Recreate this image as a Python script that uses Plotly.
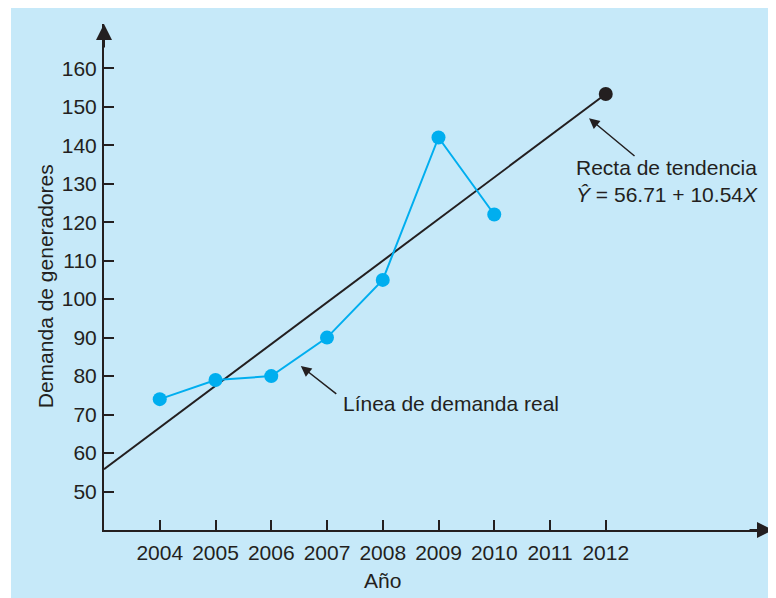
import plotly.graph_objects as go

# demanda real de generadores
years = [2004, 2005, 2006, 2007, 2008, 2009, 2010]
demand = [74, 79, 80, 90, 105, 142, 122]

# recta de tendencia (extremos)
trend_years = [2003, 2012]
trend_vals = [55.8, 153.3]

tick_years = [2004, 2005, 2006, 2007, 2008, 2009, 2010, 2011, 2012]
tick_vals = [50, 60, 70, 80, 90, 100, 110, 120, 130, 140, 150, 160]

ink = "#231f20"
cyan = "#00aeef"
panel = "#c6e9f9"
font = "Liberation Sans, Arial, sans-serif"

fig = go.Figure()

# trend line + end dot
fig.add_trace(go.Scatter(x=trend_years, y=trend_vals, mode="lines",
                         line=dict(color=ink, width=2), hoverinfo="skip"))
fig.add_trace(go.Scatter(x=trend_years[-1:], y=trend_vals[-1:], mode="markers",
                         marker=dict(color=ink, size=14), hoverinfo="skip"))

# actual demand
fig.add_trace(go.Scatter(x=years, y=demand, mode="lines+markers",
                         line=dict(color=cyan, width=2),
                         marker=dict(color=cyan, size=14)))

# page has an 8px body margin, so the figure is 8px smaller
fig.update_layout(
    width=768, height=590,
    margin=dict(l=96, r=3, t=16, b=68),
    paper_bgcolor="white",
    plot_bgcolor="rgba(0,0,0,0)",
    showlegend=False,
    font=dict(family=font, size=21, color=ink),
    shapes=[dict(type="rect", xref="paper", yref="paper",
                 x0=-0.139, x1=1.01, y0=-0.14, y1=1.04,
                 fillcolor=panel, line=dict(width=0), layer="below")],
)

fig.update_xaxes(range=[2003, 2015], showgrid=False, zeroline=False,
                 showline=True, linecolor=ink, linewidth=2,
                 tickmode="array", tickvals=tick_years,
                 ticks="inside", ticklen=10, tickwidth=2, tickcolor=ink,
                 ticklabelstandoff=3,
                 tickfont=dict(size=21, color=ink, family=font))
fig.update_yaxes(range=[40, 171.5], showgrid=False, zeroline=False,
                 showline=True, linecolor=ink, linewidth=2,
                 tickmode="array", tickvals=tick_vals,
                 ticks="inside", ticklen=10, tickwidth=2, tickcolor=ink,
                 ticklabelstandoff=1,
                 tickfont=dict(size=21, color=ink, family=font))

# axis arrowheads
fig.add_annotation(x=2015, y=40, ax=-25, ay=0, text="", showarrow=True,
                   arrowhead=2, arrowsize=1.6, arrowwidth=2, arrowcolor=ink)
fig.add_annotation(x=2003, y=171.5, ax=0, ay=25, text="", showarrow=True,
                   arrowhead=2, arrowsize=1.6, arrowwidth=2, arrowcolor=ink)

# callout arrows
fig.add_annotation(x=2011.70, y=147.0, ax=47, ay=39, text="", showarrow=True,
                   arrowhead=2, arrowsize=1.4, arrowwidth=1.5, arrowcolor=ink)
fig.add_annotation(x=2006.53, y=82.6, ax=37, ay=29, text="", showarrow=True,
                   arrowhead=2, arrowsize=1.4, arrowwidth=1.5, arrowcolor=ink)

# callout text
fig.add_annotation(x=2011.43, y=137.6, xanchor="left", yanchor="top",
                   align="left", showarrow=False,
                   text="Recta de tendencia<br><i>Ŷ</i> = 56.71 + 10.54<i>X</i>",
                   font=dict(size=21, color=ink, family=font))
fig.add_annotation(x=2007.25, y=73.0, xanchor="left", yanchor="middle",
                   showarrow=False, text="Línea de demanda real",
                   font=dict(size=21, color=ink, family=font))

# axis titles
fig.add_annotation(x=2008, y=-0.099, yref="paper", xanchor="center",
                   yanchor="middle", showarrow=False,
                   text="Año", font=dict(size=21, color=ink, family=font))
fig.add_annotation(x=-0.088, xref="paper", y=0.482, yref="paper",
                   xanchor="center", yanchor="middle",
                   showarrow=False, textangle=-90,
                   text="Demanda de generadores",
                   font=dict(size=21, color=ink, family=font))

fig.write_html("out.html")
